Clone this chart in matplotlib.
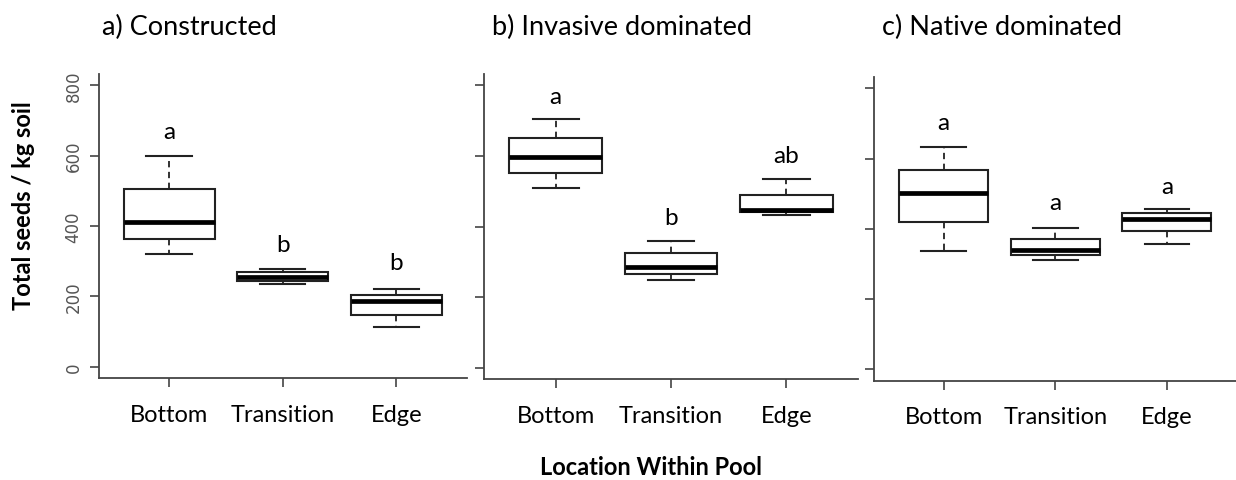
import matplotlib
matplotlib.use('Agg')
import matplotlib.pyplot as plt

# groups along the x axis
locations = ['Bottom', 'Transition', 'Edge']
panel_titles = ['a) Constructed', 'b) Invasive dominated', 'c) Native dominated']

# box statistics (seeds / kg soil)
constructed_whislo = [319, 236, 113]
constructed_q1 = [363, 245, 147]
constructed_med = [410, 255, 186]
constructed_q3 = [505, 269, 204]
constructed_whishi = [600, 279, 222]

invasive_whislo = [508, 248, 432]
invasive_q1 = [552, 265, 440]
invasive_med = [596, 286, 447]
invasive_q3 = [652, 325, 490]
invasive_whishi = [706, 359, 535]

native_whislo = [336, 312, 356]
native_q1 = [419, 327, 394]
native_med = [503, 339, 429]
native_q3 = [568, 370, 444]
native_whishi = [632, 403, 456]

# significance letters and the height they sit at
constructed_letters = ['a', 'b', 'b']
constructed_letter_y = [650, 328, 278]
invasive_letters = ['a', 'b', 'ab']
invasive_letter_y = [750, 408, 583]
native_letters = ['a', 'a', 'a']
native_letter_y = [683, 456, 503]

yticks = [0, 200, 400, 600, 800]

TEXT_FONT = ['Lato', 'DejaVu Sans']


def make_stats(whislo, q1, med, q3, whishi):
    stats = []
    for i in range(len(med)):
        stats.append({'whislo': whislo[i], 'q1': q1[i], 'med': med[i],
                      'q3': q3[i], 'whishi': whishi[i], 'fliers': []})
    return stats


panels = [
    (make_stats(constructed_whislo, constructed_q1, constructed_med, constructed_q3, constructed_whishi),
     constructed_letters, constructed_letter_y),
    (make_stats(invasive_whislo, invasive_q1, invasive_med, invasive_q3, invasive_whishi),
     invasive_letters, invasive_letter_y),
    (make_stats(native_whislo, native_q1, native_med, native_q3, native_whishi),
     native_letters, native_letter_y),
]

# axes rectangles in figure fractions (left, bottom, width, height)
rects = [
    [0.0797, 0.2121, 0.2981, 0.6320],
    [0.3916, 0.2100, 0.3026, 0.6340],
    [0.7075, 0.2064, 0.2925, 0.6314],
]
title_x = [102 / 1236, 492 / 1236, 882 / 1236]

fig = plt.figure(figsize=(12.36, 4.81), dpi=100)
line_col = '#222222'

for idx, (stats, letters, letter_y) in enumerate(panels):
    ax = fig.add_axes(rects[idx])
    ax.bxp(stats, positions=[1, 2, 3], widths=0.8, showfliers=False,
           patch_artist=True,
           boxprops=dict(facecolor='white', edgecolor=line_col, linewidth=1.5),
           medianprops=dict(color='black', linewidth=3.4, solid_capstyle='butt'),
           whiskerprops=dict(color=line_col, linewidth=1.3, linestyle=(0, (3.5, 2.5))),
           capprops=dict(color=line_col, linewidth=1.5),
           capwidths=0.4)

    for x, (lab, y) in enumerate(zip(letters, letter_y), start=1):
        ax.text(x, y, lab, ha='center', va='baseline', fontsize=17.5,
                family=TEXT_FONT, color='black')

    ax.set_xlim(0.38, 3.62)
    ax.set_ylim(-32, 832)
    ax.spines['top'].set_visible(False)
    ax.spines['right'].set_visible(False)
    for side in ['left', 'bottom']:
        ax.spines[side].set_color('#444444')
        ax.spines[side].set_linewidth(1.3)

    ax.set_xticks([1, 2, 3])
    ax.set_xticklabels(locations, fontsize=17, family=TEXT_FONT)
    ax.set_yticks(yticks)
    if idx == 0:
        ax.set_yticklabels([str(v) for v in yticks], rotation=90, va='center',
                           fontsize=12, color='#555555', family='DejaVu Sans')
    else:
        ax.set_yticklabels([])
    ax.tick_params(axis='both', length=6.5, width=1.2, color='#444444', direction='out')
    ax.tick_params(axis='x', pad=12)
    ax.tick_params(axis='y', pad=5)

    fig.text(title_x[idx], 1 - 35.5 / 481, panel_titles[idx], ha='left', va='baseline',
             fontsize=19.5, family=TEXT_FONT)

fig.text(651 / 1236, 1 - 468 / 481, 'Location Within Pool', ha='center', va='center',
         fontsize=17, fontweight='bold', family=TEXT_FONT)
fig.text(24 / 1236, 1 - 206 / 481, 'Total seeds / kg soil', ha='center', va='center',
         rotation=90, fontsize=17, fontweight='bold', family=TEXT_FONT)

fig.savefig('out.png', dpi=100)
